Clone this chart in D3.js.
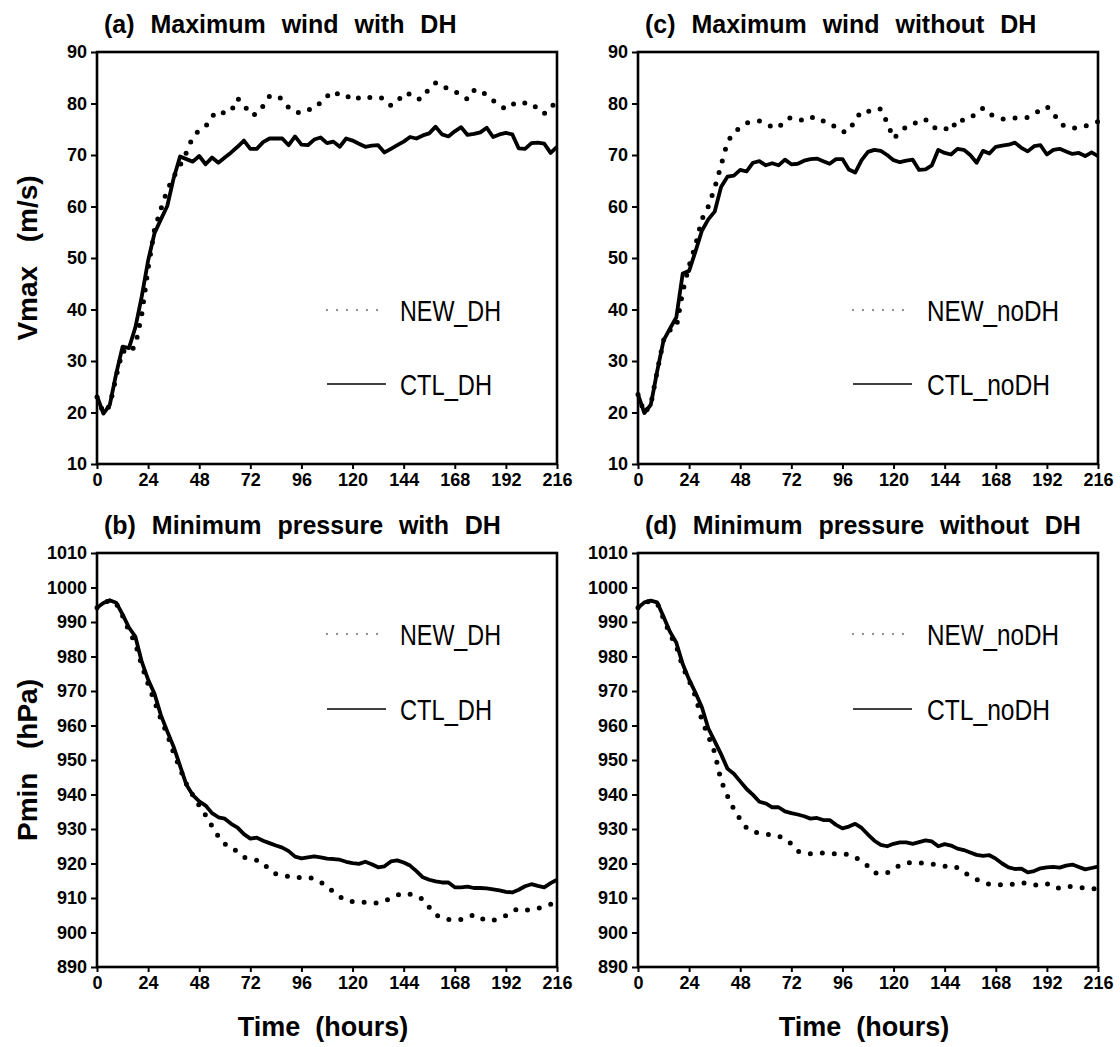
<!DOCTYPE html>
<html>
<head>
<meta charset="utf-8">
<script src="https://cdn.jsdelivr.net/npm/d3@7"></script>
<style>
  body { margin: 0; background: #fff; }
  svg { display: block; }
  text { font-family: "Liberation Sans", Arial, sans-serif; fill: #000; }
</style>
</head>
<body>
<svg></svg>
<script>
// time grid, every 3 hours from 0 to 216
let hours = d3.range(0, 217, 3)

let timeTicks = [0, 24, 48, 72, 96, 120, 144, 168, 192, 216]
let vmaxTicks = [10, 20, 30, 40, 50, 60, 70, 80, 90]
let pminTicks = [890, 900, 910, 920, 930, 940, 950, 960, 970, 980, 990, 1000, 1010]

// (a) Vmax with DH
let ctlDHvmax = [23.2,19.8,21.5,27.5,32.8,32.5,36.5,42.5,49.5,54.8,57.5,60.1,65.5,69.7,69.2,68.7,69.8,68.2,69.5,68.5,69.5,70.5,71.6,72.8,71.2,71.2,72.5,73.2,73.2,73.2,71.9,73.6,72.0,71.9,73.0,73.4,72.3,72.6,71.6,73.2,72.8,72.2,71.6,71.8,71.9,70.5,71.2,71.9,72.6,73.5,73.2,73.8,74.2,75.5,74.0,73.6,74.6,75.4,73.9,74.1,74.4,75.3,73.5,74.0,74.3,74.0,71.3,71.2,72.3,72.4,72.2,70.4,71.6]
let newDHvmax = [23.0,20.0,21.3,27.0,32.0,31.5,33.0,39.0,48.0,55.5,59.5,63.2,65.8,68.0,70.5,73.5,74.8,75.5,77.5,78.6,78.1,78.5,81.0,79.8,77.8,77.9,79.5,81.4,81.6,80.8,79.2,78.3,78.2,78.5,79.8,80.0,81.4,82.4,81.6,81.1,81.8,81.0,80.8,81.3,81.3,80.9,79.6,80.3,82.0,81.8,80.8,81.0,83.0,84.0,83.8,82.6,82.3,81.8,80.8,82.5,82.7,81.5,80.6,79.6,78.9,79.8,80.4,80.1,80.1,78.9,78.0,79.5,80.0]

// (c) Vmax without DH
let ctlNoDHvmax = [23.5,19.9,21.5,28.0,34.0,36.3,38.5,47.0,47.5,51.3,55.3,57.5,59.0,63.8,65.8,66.0,67.1,66.8,68.5,68.8,68.0,68.4,68.0,69.1,68.2,68.3,68.9,69.2,69.3,68.8,68.3,69.2,69.2,67.2,66.6,69.0,70.6,71.0,70.8,70.0,69.0,68.6,68.9,69.1,67.1,67.2,68.0,71.0,70.4,70.1,71.2,71.0,70.0,68.5,70.8,70.3,71.6,71.8,72.0,72.4,71.4,70.7,71.7,71.9,70.1,71.0,71.2,70.7,70.2,70.4,69.8,70.5,69.8]
let newNoDHvmax = [23.5,19.9,21.5,28.0,34.0,36.0,36.5,43.5,48.5,52.5,57.5,60.0,63.6,68.0,72.5,74.4,75.3,76.2,76.5,76.6,76.2,75.4,75.3,76.8,77.3,77.1,76.6,77.2,77.4,76.6,76.3,75.3,74.5,74.6,76.8,78.5,78.4,79.0,78.9,76.3,73.2,74.4,75.5,75.8,76.8,76.9,75.6,74.9,75.2,74.7,77.0,76.7,77.1,78.2,79.1,77.9,77.5,77.0,77.0,77.2,77.3,77.3,77.9,78.8,79.4,78.2,76.2,75.4,75.2,75.3,75.6,76.2,76.5]

// (b) Pmin with DH
let ctlDHpmin = [994.1,995.5,996.3,995.6,992.2,988.4,985.8,978.5,973.3,969.2,963.0,958.3,953.8,948.3,942.8,939.8,938.0,936.8,934.6,933.4,933.0,931.5,930.4,928.5,927.2,927.5,926.6,925.9,925.2,924.6,923.6,922.0,921.5,921.8,922.1,921.8,921.4,921.3,921.1,920.5,920.1,919.9,920.5,919.8,918.9,919.2,920.6,920.9,920.3,919.4,917.8,916.0,915.3,914.8,914.5,914.5,913.1,913.1,913.3,912.9,912.9,912.8,912.5,912.2,911.8,911.6,912.4,913.4,914.0,913.5,913.1,914.3,915.3]
let newDHpmin = [994.1,995.5,996.2,995.4,991.8,987.5,983.8,977.5,972.0,967.0,961.8,957.5,952.0,947.5,943.0,939.8,936.8,934.0,930.8,927.8,925.6,925.0,923.2,921.8,921.4,920.9,920.2,918.0,917.0,916.6,916.2,915.8,916.0,916.0,915.6,914.6,913.4,911.8,910.4,909.3,909.0,908.9,908.7,908.5,908.6,909.1,910.0,910.8,911.4,911.1,910.6,909.6,907.3,905.2,904.1,903.8,903.6,903.8,904.3,905.2,904.2,903.4,903.5,904.2,904.9,906.2,906.9,906.5,906.6,907.0,907.6,908.2,908.7]

// (d) Pmin without DH
let ctlNoDHpmin = [994.1,995.7,996.2,995.7,991.5,987.2,984.0,977.8,973.3,969.5,965.3,959.2,955.5,951.7,947.5,946.0,943.8,941.6,939.9,937.9,937.4,936.3,936.3,935.1,934.6,934.2,933.7,933.0,933.2,932.6,932.6,931.2,930.2,930.7,931.5,930.3,928.4,926.6,925.4,925.0,925.7,926.1,926.1,925.7,926.2,926.7,926.4,925.0,925.6,925.2,924.3,923.9,923.2,922.5,922.2,922.4,921.4,920.0,918.9,918.4,918.5,917.4,917.8,918.6,918.9,919.0,918.8,919.4,919.7,919.0,918.3,918.7,919.1]
let newNoDHpmin = [994.1,995.6,996.1,995.5,991.0,986.5,983.0,977.0,973.0,968.5,961.5,957.0,952.2,944.0,939.6,935.8,932.8,930.3,929.2,928.8,928.5,928.2,928.0,927.0,925.7,923.6,923.0,922.8,922.9,923.1,923.0,922.8,922.8,922.6,921.8,920.6,919.2,917.3,917.0,917.3,918.5,919.5,920.2,920.2,920.2,920.0,919.9,919.5,919.2,919.4,918.8,917.5,916.4,915.4,914.5,914.0,913.9,913.8,913.7,914.2,914.5,914.1,913.7,914.1,914.2,913.0,912.9,913.4,913.3,913.1,912.9,912.7,912.6]

let width = 1120
let height = 1047

let svg = d3.select('svg')
    .attr('width', width)
    .attr('height', height)

let panels = [
    {title: '(a)  Maximum  wind  with  DH', left: 97, top: 52, h: 412, domain: [10, 90], ticks: vmaxTicks,
     ctl: ctlDHvmax, nw: newDHvmax, names: ['NEW_DH', 'CTL_DH'], widths: [101, 92],
     leg: {x: 230, tx: 303, y1: 258, y2: 332}, ylabel: 'Vmax  (m/s)', xlabel: false},
    {title: '(c)  Maximum  wind  without  DH', left: 638, top: 52, h: 412, domain: [10, 90], ticks: vmaxTicks,
     ctl: ctlNoDHvmax, nw: newNoDHvmax, names: ['NEW_noDH', 'CTL_noDH'], widths: [132, 123],
     leg: {x: 215, tx: 289, y1: 258, y2: 332}, ylabel: null, xlabel: false},
    {title: '(b)  Minimum  pressure  with  DH', left: 97, top: 553, h: 414, domain: [890, 1010], ticks: pminTicks,
     ctl: ctlDHpmin, nw: newDHpmin, names: ['NEW_DH', 'CTL_DH'], widths: [101, 92],
     leg: {x: 230, tx: 303, y1: 81, y2: 156}, ylabel: 'Pmin  (hPa)', xlabel: true},
    {title: '(d)  Minimum  pressure  without  DH', left: 638, top: 553, h: 414, domain: [890, 1010], ticks: pminTicks,
     ctl: ctlNoDHpmin, nw: newNoDHpmin, names: ['NEW_noDH', 'CTL_noDH'], widths: [132, 123],
     leg: {x: 215, tx: 289, y1: 81, y2: 156}, ylabel: null, xlabel: true}
]

let panelWidth = 460

drawPanel = (p) => {
    let g = svg.append('g')
        .attr('transform', 'translate(' + p.left + ',' + p.top + ')')

    let xScale = d3.scaleLinear()
        .domain([0, 216])
        .range([0, panelWidth])

    let yScale = d3.scaleLinear()
        .domain(p.domain)
        .range([p.h, 0])

    let xAxis = d3.axisBottom(xScale)
        .tickValues(timeTicks)
        .tickFormat(d3.format('d'))
        .tickSize(5)
        .tickPadding(4)
        .tickSizeOuter(0)

    let yAxis = d3.axisLeft(yScale)
        .tickValues(p.ticks)
        .tickFormat(d3.format('d'))
        .tickSize(6)
        .tickPadding(4)
        .tickSizeOuter(0)

    let gx = g.append('g')
        .attr('transform', 'translate(0,' + p.h + ')')
        .call(xAxis)
    let gy = g.append('g')
        .call(yAxis)

    ;[gx, gy].forEach((a) => {
        a.select('.domain').remove()
        a.selectAll('line').attr('stroke', '#000').attr('stroke-width', 2)
        a.selectAll('text')
            .attr('font-size', 18)
            .attr('font-weight', 'bold')
            .attr('font-family', '"Liberation Sans", Arial, sans-serif')
            .attr('fill', '#000')
    })

    // frame
    g.append('rect')
        .attr('x', 0)
        .attr('y', 0)
        .attr('width', panelWidth)
        .attr('height', p.h)
        .attr('fill', 'none')
        .attr('stroke', '#000')
        .attr('stroke-width', 2.6)

    let line = d3.line()
        .x((d, i) => xScale(hours[i]))
        .y((d) => yScale(d))

    g.append('path')
        .datum(p.nw)
        .attr('d', line)
        .attr('fill', 'none')
        .attr('stroke', '#000')
        .attr('stroke-width', 5)
        .attr('stroke-linecap', 'round')
        .attr('stroke-dasharray', '0,12')

    g.append('path')
        .datum(p.ctl)
        .attr('d', line)
        .attr('fill', 'none')
        .attr('stroke', '#000')
        .attr('stroke-width', 3.8)
        .attr('stroke-linejoin', 'round')

    // legend
    g.append('line')
        .attr('x1', p.leg.x).attr('x2', p.leg.x + 52)
        .attr('y1', p.leg.y1).attr('y2', p.leg.y1)
        .attr('stroke', '#000')
        .attr('stroke-width', 1.6)
        .attr('stroke-linecap', 'round')
        .attr('stroke-dasharray', '0,10')
    g.append('line')
        .attr('x1', p.leg.x).attr('x2', p.leg.x + 59)
        .attr('y1', p.leg.y2).attr('y2', p.leg.y2)
        .attr('stroke', '#000')
        .attr('stroke-width', 1.4)

    g.selectAll('.legtext')
        .data(p.names)
        .enter()
        .append('text')
        .attr('class', 'legtext')
        .attr('x', p.leg.tx)
        .attr('y', (d, i) => (i == 0 ? p.leg.y1 : p.leg.y2) + 10.5)
        .attr('font-size', 29)
        .attr('textLength', (d, i) => p.widths[i])
        .attr('lengthAdjust', 'spacingAndGlyphs')
        .text((d) => d)

    // title
    g.append('text')
        .attr('x', 7)
        .attr('y', -19)
        .attr('font-size', 25)
        .attr('font-weight', 'bold')
        .attr('word-spacing', 1)
        .style('white-space', 'pre')
        .text(p.title)

    if (p.ylabel) {
        g.append('text')
            .attr('transform', 'translate(-60,' + (p.h / 2) + ') rotate(-90)')
            .attr('text-anchor', 'middle')
            .attr('font-size', 28)
            .attr('font-weight', 'bold')
            .attr('word-spacing', 4)
            .style('white-space', 'pre')
            .text(p.ylabel)
    }
    if (p.xlabel) {
        g.append('text')
            .attr('x', panelWidth / 2 - 4)
            .attr('y', p.h + 69)
            .attr('text-anchor', 'middle')
            .attr('font-size', 27)
            .attr('font-weight', 'bold')
            .style('white-space', 'pre')
            .text('Time  (hours)')
    }
}

panels.forEach(drawPanel)
</script>
</body>
</html>
